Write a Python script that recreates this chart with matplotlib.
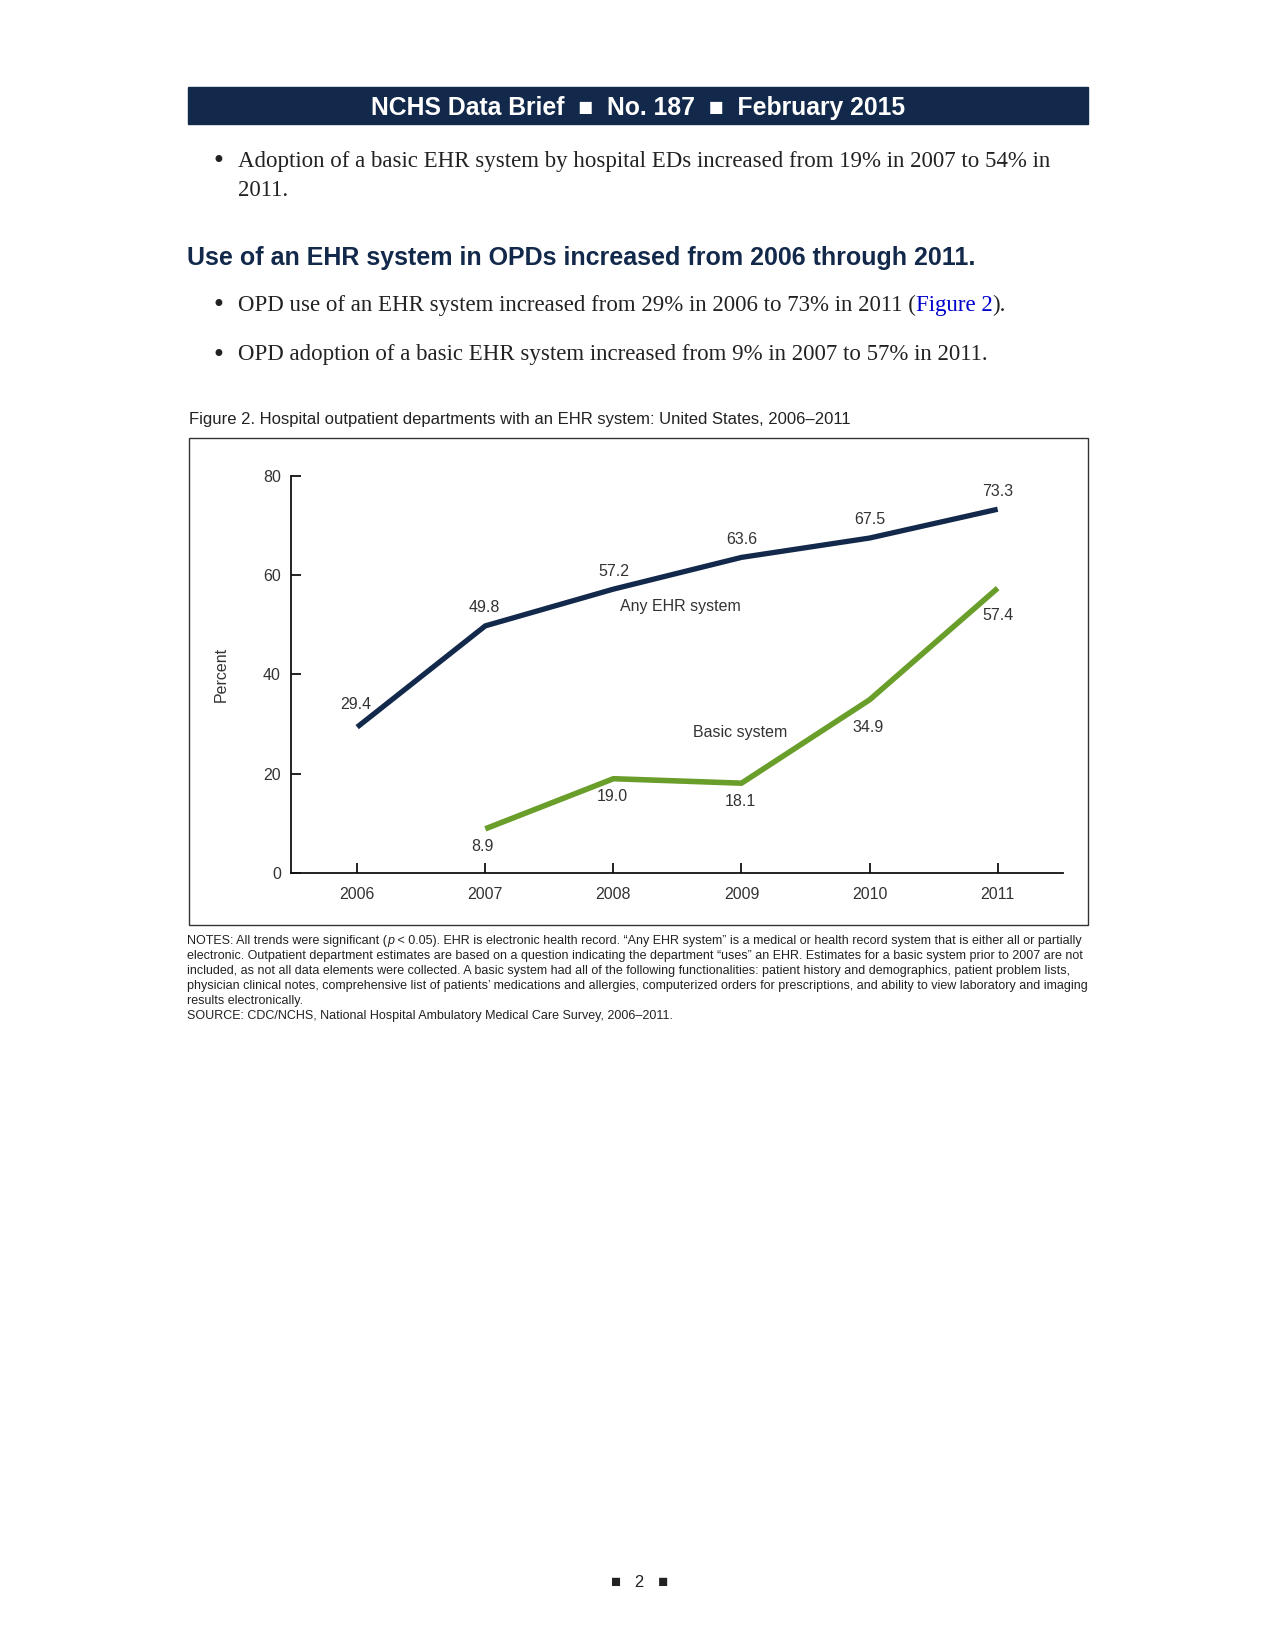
import numpy as np
import matplotlib
matplotlib.use("Agg")
import matplotlib.pyplot as plt
from matplotlib.patches import Rectangle

# data
years = [2006, 2007, 2008, 2009, 2010, 2011]
any_ehr = [29.4, 49.8, 57.2, 63.6, 67.5, 73.3]
basic_years = [2007, 2008, 2009, 2010, 2011]
basic = [8.9, 19.0, 18.1, 34.9, 57.4]
yticks = [0, 20, 40, 60, 80]

NAVY = "#13294b"
GREEN = "#6a9e2a"
SANS = ["Liberation Sans", "DejaVu Sans"]
SERIF = ["Liberation Serif", "DejaVu Serif"]

W, H = 1275, 1651
fig = plt.figure(figsize=(W / 100, H / 100), dpi=100)
r = fig.canvas.get_renderer()


def fx(x):
    return x / W


def fy(y):
    return 1 - (y + 2.5) / H


def runs(x, y, parts, **kw):
    # draw text pieces one after the other on one line
    xf = fx(x)
    for s, extra in parts:
        opts = dict(kw)
        opts.update(extra)
        t = fig.text(xf, fy(y), s, **opts)
        bb = t.get_window_extent(r)
        xf = bb.x1 / fig.bbox.width


# header bar
fig.patches.append(Rectangle((fx(188), 1 - 124 / H), fx(1088) - fx(188), 37 / H,
                             transform=fig.transFigure, color=NAVY, zorder=0))
fig.text(fx(638), fy(106), "NCHS Data Brief  \u25A0  No. 187  \u25A0  February 2015",
         color="white", size=17.8, weight="bold", family=SANS, ha="center", va="center")

# bullets
body = dict(size=16.5, family=SERIF, color="#222222", va="center")
for yy in (159, 303, 352):
    fig.text(fx(212), fy(yy), "\u2022", size=17, family=["DejaVu Sans"], color="#222222", va="center")
fig.text(fx(238), fy(159), "Adoption of a basic EHR system by hospital EDs increased from 19% in 2007 to 54% in", **body)
fig.text(fx(238), fy(187.5), "2011.", **body)
fig.text(fx(187), fy(255), "Use of an EHR system in OPDs increased from 2006 through 2011.",
         size=18, weight="bold", family=SANS, color=NAVY, va="center")
runs(238, 303, [("OPD use of an EHR system increased from 29% in 2006 to 73% in 2011 (", {}),
                ("Figure 2", {"color": "#0000cc"}), (").", {})], **body)
fig.text(fx(238), fy(352), "OPD adoption of a basic EHR system increased from 9% in 2007 to 57% in 2011.", **body)

fig.text(fx(188.5), fy(417), "Figure 2. Hospital outpatient departments with an EHR system: United States, 2006\u20132011",
         size=12, family=SANS, color="#222222", va="center")

# chart frame
fig.patches.append(Rectangle((fx(188.5), 1 - 925.5 / H), fx(1087.5) - fx(188.5), 487.5 / H,
                             transform=fig.transFigure, fill=False, ec="#333333", lw=1.0))

ax = fig.add_axes([fx(290.6), 1 - 873 / H, fx(1063) - fx(290.6), 397 / H])
ax.plot(years, any_ehr, color=NAVY, lw=3.8, solid_capstyle="butt", solid_joinstyle="round")
ax.plot(basic_years, basic, color=GREEN, lw=4.0, solid_capstyle="butt", solid_joinstyle="round")
ax.set_xlim(2005.48, 2011.51)
ax.set_ylim(0, 80)
ax.set_xticks(years)
ax.set_yticks(yticks)
for s in ("top", "right"):
    ax.spines[s].set_visible(False)
for s in ("left", "bottom"):
    ax.spines[s].set_linewidth(1.3)
    ax.spines[s].set_color("#111111")
ax.tick_params(direction="in", length=7.5, width=1.3, color="#111111", labelsize=11.5,
               labelcolor="#333333")
ax.tick_params(axis="x", pad=10)
ax.tick_params(axis="y", pad=7)
for lab in ax.get_xticklabels() + ax.get_yticklabels():
    lab.set_family(SANS)
ax.set_ylabel("Percent", family=SANS, size=11.5, color="#333333", labelpad=25)
ax.patch.set_alpha(0)

lab_kw = dict(textcoords="offset points", ha="center", va="center", size=11.5,
              family=SANS, color="#333333")
up = [(-1, 16), (-1, 13), (0, 13), (0, 13), (0, 13), (0, 13)]
for x, v, off in zip(years, any_ehr, up):
    ax.annotate(f"{v:.1f}", (x, v), xytext=off, **lab_kw)
down = [(-2, -13), (-1, -13), (-1, -13), (-1, -20), (0, -20)]
for x, v, off in zip(basic_years, basic, down):
    ax.annotate(f"{v:.1f}", (x, v), xytext=off, **lab_kw)
ax.text(2008.52, 53.7, "Any EHR system", ha="center", va="center", size=11.5, family=SANS, color="#333333")
ax.text(2008.99, 28.4, "Basic system", ha="center", va="center", size=11.5, family=SANS, color="#333333")

# notes
notes = [
    None,
    "electronic. Outpatient department estimates are based on a question indicating the department \u201cuses\u201d an EHR. Estimates for a basic system prior to 2007 are not",
    "included, as not all data elements were collected. A basic system had all of the following functionalities: patient history and demographics, patient problem lists,",
    "physician clinical notes, comprehensive list of patients\u2019 medications and allergies, computerized orders for prescriptions, and ability to view laboratory and imaging",
    "results electronically.",
    "SOURCE: CDC/NCHS, National Hospital Ambulatory Medical Care Survey, 2006\u20132011.",
]
note_kw = dict(size=9.0, family=SANS, color="#222222", va="center")
note_y = [938, 953, 968.5, 983.3, 998, 1013]
runs(187.4, note_y[0], [("NOTES: All trends were significant (", {}), ("p", {"style": "italic"}),
                        (" < 0.05). EHR is electronic health record. \u201cAny EHR system\u201d is a medical or health record system that is either all or partially", {})],
     **note_kw)
for yy, line in zip(note_y[1:], notes[1:]):
    fig.text(fx(187.4), fy(yy), line, **note_kw)

fig.text(fx(640), fy(1580), "\u25A0   2   \u25A0", size=12, family=SANS, color="#222222", ha="center", va="center")

fig.savefig("out.png", dpi=100)
